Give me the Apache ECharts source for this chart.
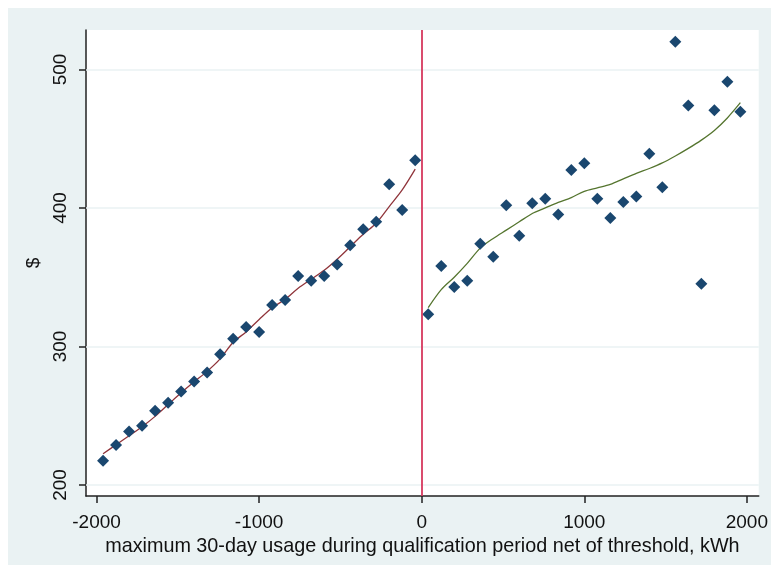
<!DOCTYPE html>
<html>
<head>
<meta charset="utf-8">
<script src="https://cdn.jsdelivr.net/npm/echarts@6/dist/echarts.min.js"></script>
<style>
  html, body { margin: 0; padding: 0; background: #fff; }
  #chart { width: 771px; height: 569px; }
</style>
</head>
<body>
<div id="chart"></div>
<script>
// bin centres and mean bill, below threshold
const leftX = [-1960, -1880, -1800, -1720, -1640, -1560, -1480, -1400, -1320, -1240, -1160, -1080, -1000,
  -920, -840, -760, -680, -600, -520, -440, -360, -280, -200, -120, -40];
const leftY = [217.5, 228.9, 238.5, 242.8, 253.6, 259.4, 267.4, 274.6, 281.1, 294.4, 305.6, 314.1, 310.5,
  330, 333.6, 350.9, 347.5, 350.9, 359.1, 373.1, 384.6, 390.1, 417.1, 398.6, 434.4];
const leftFit = [222.5, 229, 235.5, 242, 249.5, 258, 266.5, 274.5, 282, 291, 303, 310.5, 319.5,
  328, 334, 342, 348.5, 355, 363, 372, 381, 389, 401, 413, 428];

// above threshold
const rightX = [40, 120, 200, 280, 360, 440, 520, 600, 680, 760, 840, 920, 1000,
  1080, 1160, 1240, 1320, 1400, 1480, 1560, 1640, 1720, 1800, 1880, 1960];
const rightY = [323.2, 358.1, 343, 347.5, 374.2, 364.8, 402, 380, 403.4, 406.7, 395.2, 427.4, 432.3,
  406.7, 392.8, 404.3, 408.2, 439.2, 414.9, 520.1, 473.9, 345.3, 470.5, 491.2, 469.5];
const rightFit = [328, 341, 350, 360, 371, 378, 384, 390, 396, 400, 404, 407.5, 412,
  414.5, 417, 421, 425, 428.5, 432.5, 437.5, 443, 449, 456, 465, 476];

const xTicks = [-2000, -1000, 0, 1000, 2000];
const yTicks = [200, 300, 400, 500];

const font = "'Liberation Sans', Arial, sans-serif";
const pairs = (xs, ys) => xs.map((x, i) => [x, ys[i]]);

const chart = echarts.init(document.getElementById('chart'));
chart.setOption({
  animation: false,
  backgroundColor: '#fff',
  graphic: [{
    type: 'rect', z: -10,
    shape: { x: 8, y: 8, width: 763, height: 557 },
    style: { fill: '#eaf2f3' }
  }],
  grid: {
    left: 86, top: 30, right: 8, bottom: 73,
    show: true, backgroundColor: '#fff', borderWidth: 0
  },
  xAxis: {
    type: 'value', min: -2065, max: 2073,
    name: 'maximum 30-day usage during qualification period net of threshold, kWh',
    nameLocation: 'middle', nameGap: 23,
    nameTextStyle: { fontFamily: font, fontSize: 19.8, color: '#111' },
    axisLine: { show: true, onZero: false, lineStyle: { color: '#222', width: 1.5 } },
    axisTick: { show: true, length: 7, customValues: xTicks, lineStyle: { color: '#222', width: 1.5 } },
    axisLabel: {
      customValues: xTicks, margin: 17, fontFamily: font, fontSize: 19, color: '#111',
      formatter: v => String(v)
    },
    splitLine: { show: false }
  },
  yAxis: {
    type: 'value', min: 192, max: 528.5,
    name: '$', nameLocation: 'middle', nameGap: 33, nameRotate: 90,
    nameTextStyle: { fontFamily: font, fontSize: 19, color: '#111' },
    axisLine: { show: true, onZero: false, lineStyle: { color: '#222', width: 1.5 } },
    axisTick: { show: true, length: 7, customValues: yTicks, lineStyle: { color: '#222', width: 1.5 } },
    axisLabel: {
      customValues: yTicks, rotate: 90, margin: 16, fontFamily: font, fontSize: 19, color: '#111',
      formatter: v => String(v)
    },
    splitLine: { show: false }
  },
  series: [
    {
      type: 'line', data: [], silent: true,
      markLine: {
        silent: true, symbol: 'none', label: { show: false }, z: 1,
        lineStyle: { color: '#eaf2f3', width: 1.5, type: 'solid' },
        data: yTicks.map(v => ({ yAxis: v }))
      }
    },
    {
      type: 'line', data: pairs(leftX, leftFit), showSymbol: false, smooth: 0.3, z: 3,
      lineStyle: { color: '#90353b', width: 1.3 }
    },
    {
      type: 'line', data: pairs(rightX, rightFit), showSymbol: false, smooth: 0.3, z: 3,
      lineStyle: { color: '#55752f', width: 1.3 }
    },
    {
      type: 'scatter', data: pairs(leftX, leftY), symbol: 'diamond', symbolSize: 12, z: 4,
      itemStyle: { color: '#1a476f', opacity: 1 }
    },
    {
      type: 'scatter', data: pairs(rightX, rightY), symbol: 'diamond', symbolSize: 12, z: 4,
      itemStyle: { color: '#1a476f', opacity: 1 },
      markLine: {
        silent: true, symbol: 'none', label: { show: false },
        lineStyle: { color: '#d6385e', width: 1.8, type: 'solid' },
        data: [{ xAxis: 0 }]
      }
    }
  ]
});
</script>
</body>
</html>
